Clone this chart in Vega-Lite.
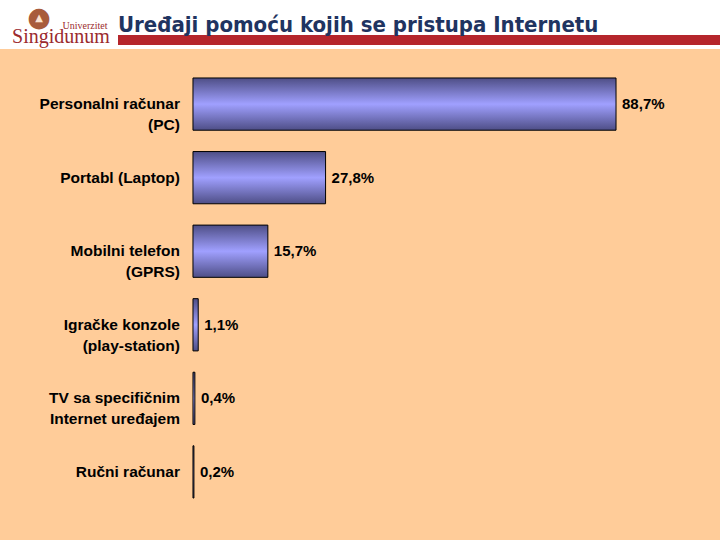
{
  "$schema": "https://vega.github.io/schema/vega-lite/v6.json",
  "padding": {"top": 4, "left": 0, "right": 0, "bottom": 0},
  "background": "white",
  "spacing": 2,
  "config": {
    "font": "Liberation Sans",
    "concat": {"spacing": 0},
    "view": {"stroke": null},
    "locale": {"number": {"decimal": ",", "thousands": ".", "grouping": [3], "currency": ["", " €"]}}
  },
  "vconcat": [
    {
      "spacing": 0,
      "hconcat": [
        {
          "width": 118,
          "height": 10,
          "view": {"fill": "white", "stroke": null},
          "data": {"values": [{"name": "Singidunum", "top": "Univerzitet", "emblem": "●", "arch": "▲"}]},
          "layer": [
            {
              "mark": {"type": "text", "font": "DejaVu Sans", "fontSize": 27, "color": "#A85C3C", "baseline": "middle", "dx": -20, "dy": -22},
              "encoding": {"text": {"field": "emblem"}}
            },
            {
              "mark": {"type": "text", "font": "DejaVu Sans", "fontSize": 10, "color": "#FBE3D0", "baseline": "middle", "dx": -20, "dy": -22},
              "encoding": {"text": {"field": "arch"}}
            },
            {
              "mark": {"type": "text", "font": "Liberation Serif", "fontSize": 20, "color": "#9B2A2E", "baseline": "alphabetic", "dy": 3, "dx": 2},
              "encoding": {"text": {"field": "name"}}
            },
            {
              "mark": {"type": "text", "font": "Liberation Serif", "fontSize": 10, "color": "#9B2A2E", "baseline": "alphabetic", "dy": -11, "dx": 26},
              "encoding": {"text": {"field": "top"}}
            }
          ]
        },
        {
          "width": 602,
          "height": 10,
          "view": {"fill": "#B5262C", "stroke": null},
          "title": {
            "text": "Uređaji pomoću kojih se pristupa Internetu",
            "anchor": "start",
            "font": "DejaVu Sans Condensed, DejaVu Sans",
            "fontSize": 22,
            "fontWeight": "bold",
            "color": "#1F3461",
            "offset": -3
          },
          "data": {"values": [{"t": ""}]},
          "mark": {"type": "text"},
          "encoding": {"text": {"field": "t"}}
        }
      ]
    },
    {
      "width": 720,
      "height": 492,
      "view": {"fill": "#FFCC99", "stroke": null},
      "data": {
        "values": [
          {"device": "Personalni računar\n(PC)", "share": 0.887},
          {"device": "Portabl (Laptop)", "share": 0.278},
          {"device": "Mobilni telefon\n(GPRS)", "share": 0.157},
          {"device": "Igračke konzole\n(play-station)", "share": 0.011},
          {"device": "TV sa specifičnim\nInternet uređajem", "share": 0.004},
          {"device": "Ručni računar", "share": 0.002}
        ]
      },
      "encoding": {
        "y": {
          "field": "device",
          "type": "nominal",
          "sort": null,
          "axis": null,
          "scale": {"range": [0, 478], "paddingInner": 0.29, "paddingOuter": 0.394}
        }
      },
      "layer": [
        {
          "mark": {
            "type": "bar",
            "stroke": "black",
            "strokeWidth": 1,
            "color": {
              "gradient": "linear",
              "x1": 0, "y1": 0, "x2": 0, "y2": 1,
              "stops": [
                {"offset": 0, "color": "#4E4E86"},
                {"offset": 0.5, "color": "#A0A0FF"},
                {"offset": 1, "color": "#4E4E86"}
              ]
            }
          },
          "encoding": {
            "x": {"field": "share", "type": "quantitative", "axis": null, "scale": {"domain": [-0.4046, 1.105], "nice": false, "zero": false}}
          }
        },
        {
          "mark": {"type": "text", "align": "left", "baseline": "middle", "dx": 6, "fontSize": 15, "fontWeight": "bold", "color": "black"},
          "encoding": {
            "x": {"field": "share", "type": "quantitative"},
            "text": {"field": "share", "type": "quantitative", "format": ".1%"}
          }
        },
        {
          "mark": {"type": "text", "align": "right", "baseline": "middle", "dx": -13, "fontSize": 15.5, "fontWeight": "bold", "color": "black", "lineBreak": "\n", "lineHeight": 21},
          "encoding": {
            "x": {"datum": 0, "type": "quantitative"},
            "text": {"field": "device", "type": "nominal"}
          }
        }
      ]
    }
  ]
}
